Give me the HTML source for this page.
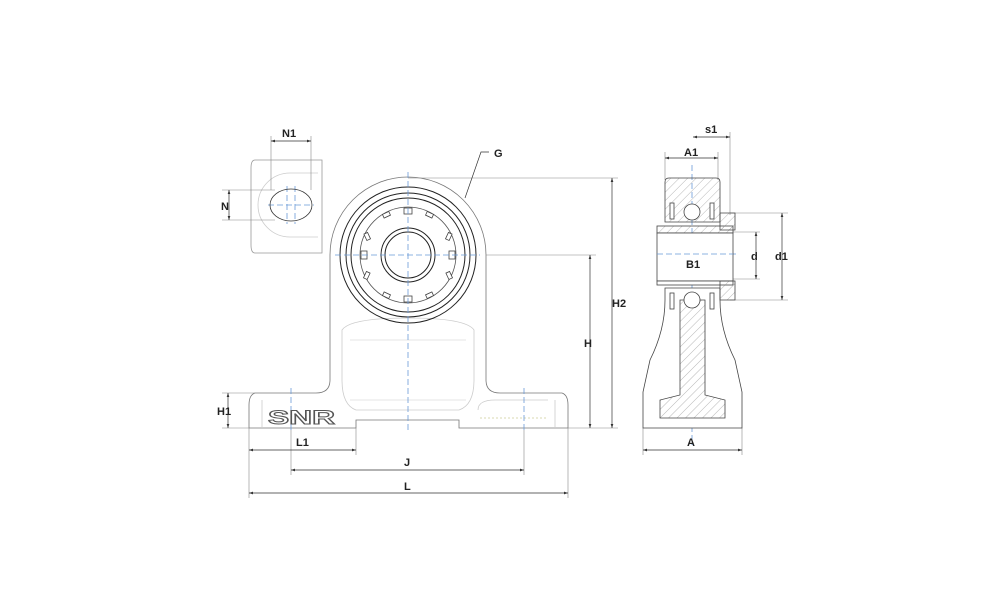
<!DOCTYPE html>
<html><head><meta charset="utf-8"><style>
html,body{margin:0;padding:0;background:#fff;width:1000px;height:611px;overflow:hidden}
text{font-family:"Liberation Sans",sans-serif;font-weight:bold;font-size:11px;fill:#222}
</style></head><body>
<svg width="1000" height="611" viewBox="0 0 1000 611" xmlns="http://www.w3.org/2000/svg">
<defs>
<marker id="a" markerWidth="6" markerHeight="6" refX="6" refY="3" orient="auto-start-reverse"><path d="M0,1 L6,3 L0,5z" fill="#333"/></marker>
<pattern id="h" width="6" height="6" patternUnits="userSpaceOnUse" patternTransform="rotate(45)"><line x1="0" y1="0" x2="0" y2="6" stroke="#888" stroke-width="0.6"/></pattern>
</defs>
<g fill="none" stroke="#999" stroke-width="0.8">
<path d="M330,255 A78,78 0 0 1 486,255 L486,380 Q486,393 500,393 L562,393 Q568,395 568,405 L568,428 L459,428 L459,420 L356,420 L356,428 L249,428 L249,405 Q249,395 255,393 L316,393 Q330,393 330,380 Z" stroke="#777"/>
<path d="M342,330 Q350,318 408,318 Q466,318 474,330 L474,380 Q474,405 459,410 L356,410 Q342,405 342,380 Z" stroke="#ccc"/>
<path d="M350,340 L466,340 M350,400 L466,400" stroke="#ddd"/>
<path d="M262,400 L262,428 M555,400 L555,428 M478,410 Q478,400 495,400 L548,400" stroke="#ccc"/>
<path d="M480,418 L548,418" stroke="#cc9" stroke-dasharray="2,2"/>
</g>
<g fill="none" stroke="#222" stroke-width="1">
<circle cx="408" cy="255" r="68"/>
<circle cx="408" cy="255" r="62"/>
<circle cx="408" cy="255" r="57"/>
<circle cx="408" cy="255" r="48" stroke="#555" stroke-width="0.8"/>
<circle cx="408" cy="255" r="27"/>
<circle cx="408" cy="255" r="23"/>
</g>
<g fill="#fff" stroke="#444" stroke-width="0.8">
<rect x="404" y="208" width="8" height="6"/><rect x="404" y="296" width="8" height="6"/>
<rect x="361" y="251" width="6" height="8"/><rect x="449" y="251" width="6" height="8"/>
<rect x="383" y="213" width="7" height="4" transform="rotate(-25 386 215)"/>
<rect x="426" y="213" width="7" height="4" transform="rotate(25 430 215)"/>
<rect x="383" y="293" width="7" height="4" transform="rotate(25 386 295)"/>
<rect x="426" y="293" width="7" height="4" transform="rotate(-25 430 295)"/>
<rect x="365" y="233" width="4" height="7" transform="rotate(-25 367 236)"/>
<rect x="447" y="233" width="4" height="7" transform="rotate(25 449 236)"/>
<rect x="365" y="272" width="4" height="7" transform="rotate(25 367 275)"/>
<rect x="447" y="272" width="4" height="7" transform="rotate(-25 449 275)"/>
</g>
<g stroke="#6a9ad8" stroke-width="0.8" stroke-dasharray="6,3" fill="none">
<line x1="408" y1="172" x2="408" y2="430"/><line x1="335" y1="255" x2="480" y2="255"/>
<line x1="291" y1="388" x2="291" y2="430"/><line x1="524" y1="388" x2="524" y2="430"/>
<line x1="287" y1="186" x2="287" y2="224"/><line x1="295" y1="186" x2="295" y2="224"/>
<line x1="268" y1="205" x2="314" y2="205"/>
<line x1="692" y1="165" x2="692" y2="445"/><line x1="660" y1="254" x2="736" y2="254"/>
</g>
<text x="268" y="424" textLength="67" lengthAdjust="spacingAndGlyphs" style="font-size:19px;font-weight:900;fill:#fff;stroke:#555;stroke-width:1">SNR</text>
<g fill="none" stroke="#999" stroke-width="0.8">
<path d="M255,160 L322,160 L322,253 L255,253 Q251,253 251,245 L251,168 Q251,160 255,160"/>
<path d="M318,173 L290,173 A32,32 0 0 0 290,237 L318,237" stroke="#ccc"/>
<ellipse cx="291" cy="205" rx="21" ry="16" stroke="#333"/>
</g>
<g stroke="#888" stroke-width="0.6" fill="none">
<line x1="271" y1="136" x2="271" y2="190"/><line x1="311" y1="136" x2="311" y2="190"/>
<line x1="222" y1="190" x2="275" y2="190"/><line x1="222" y1="220" x2="275" y2="220"/>
<line x1="408" y1="178" x2="618" y2="178"/><line x1="486" y1="255" x2="596" y2="255"/>
<line x1="568" y1="428" x2="618" y2="428"/><line x1="222" y1="393" x2="255" y2="393"/><line x1="222" y1="428" x2="249" y2="428"/>
<line x1="249" y1="428" x2="249" y2="498"/><line x1="568" y1="428" x2="568" y2="498"/>
<line x1="291" y1="430" x2="291" y2="475"/><line x1="524" y1="430" x2="524" y2="475"/><line x1="356" y1="428" x2="356" y2="455"/>
<line x1="643" y1="428" x2="643" y2="455"/><line x1="742" y1="428" x2="742" y2="455"/>
<line x1="665" y1="152" x2="665" y2="180"/><line x1="718" y1="152" x2="718" y2="180"/><line x1="730" y1="132" x2="730" y2="215"/>
<line x1="730" y1="213" x2="788" y2="213"/><line x1="730" y1="300" x2="788" y2="300"/>
<line x1="733" y1="232" x2="760" y2="232"/><line x1="733" y1="279" x2="760" y2="279"/>
</g>
<g stroke="#333" stroke-width="0.7" marker-start="url(#a)" marker-end="url(#a)">
<line x1="271" y1="141" x2="311" y2="141"/>
<line x1="229" y1="190" x2="229" y2="220"/>
<line x1="612" y1="178" x2="612" y2="428"/>
<line x1="590" y1="255" x2="590" y2="428"/>
<line x1="228" y1="393" x2="228" y2="428"/>
<line x1="249" y1="450" x2="356" y2="450"/>
<line x1="291" y1="470" x2="524" y2="470"/>
<line x1="249" y1="493" x2="568" y2="493"/>
<line x1="643" y1="450" x2="742" y2="450"/>
<line x1="665" y1="158" x2="718" y2="158"/>
<line x1="693" y1="137" x2="730" y2="137"/>
<line x1="782" y1="213" x2="782" y2="300"/>
<line x1="756" y1="232" x2="756" y2="279"/>
</g>
<path d="M489,152 L481,152 L465,198" stroke="#333" stroke-width="0.7" fill="none"/>
<g stroke="#444" stroke-width="0.8">
<path d="M669,178 L716,178 Q720,178 720,182 L720,222 L665,222 L665,182 Q665,178 669,178Z" fill="url(#h)"/>
<path d="M665,288 L720,288 L720,300 Q720,330 735,360 L742,392 L742,428 L643,428 L643,392 L650,360 Q665,330 665,300Z" fill="#fff"/>
<path d="M680,300 L705,300 L705,395 L725,400 L725,418 L660,418 L660,400 L680,395Z" fill="url(#h)"/>
<rect x="657" y="226" width="76" height="7" fill="url(#h)"/>
<rect x="657" y="233" width="76" height="48" fill="#fff"/>
<rect x="657" y="281" width="76" height="4" fill="#fff"/>
<path d="M720,213 L735,213 L735,230 L720,230Z M720,281 L735,281 L735,300 L720,300Z" fill="url(#h)"/>
<circle cx="692" cy="212" r="8" fill="#fff"/><circle cx="692" cy="300" r="8" fill="#fff"/>
<rect x="670" y="203" width="4" height="16" fill="#fff"/><rect x="710" y="203" width="4" height="16" fill="#fff"/>
<rect x="670" y="293" width="4" height="16" fill="#fff"/><rect x="710" y="293" width="4" height="16" fill="#fff"/>
</g>
<line x1="657" y1="254" x2="733" y2="254" stroke="#6a9ad8" stroke-width="0.8" stroke-dasharray="6,3"/>
<g>
<text x="282" y="137">N1</text><text x="221" y="210">N</text><text x="494" y="157">G</text>
<text x="612" y="307">H2</text><text x="584" y="347">H</text><text x="217" y="415">H1</text>
<text x="296" y="446">L1</text><text x="404" y="466">J</text><text x="404" y="490">L</text>
<text x="705" y="133">s1</text><text x="684" y="156">A1</text>
<text x="686" y="268">B1</text><text x="751" y="260">d</text><text x="775" y="260">d1</text>
<text x="687" y="446">A</text>
</g>
</svg>
</body></html>
